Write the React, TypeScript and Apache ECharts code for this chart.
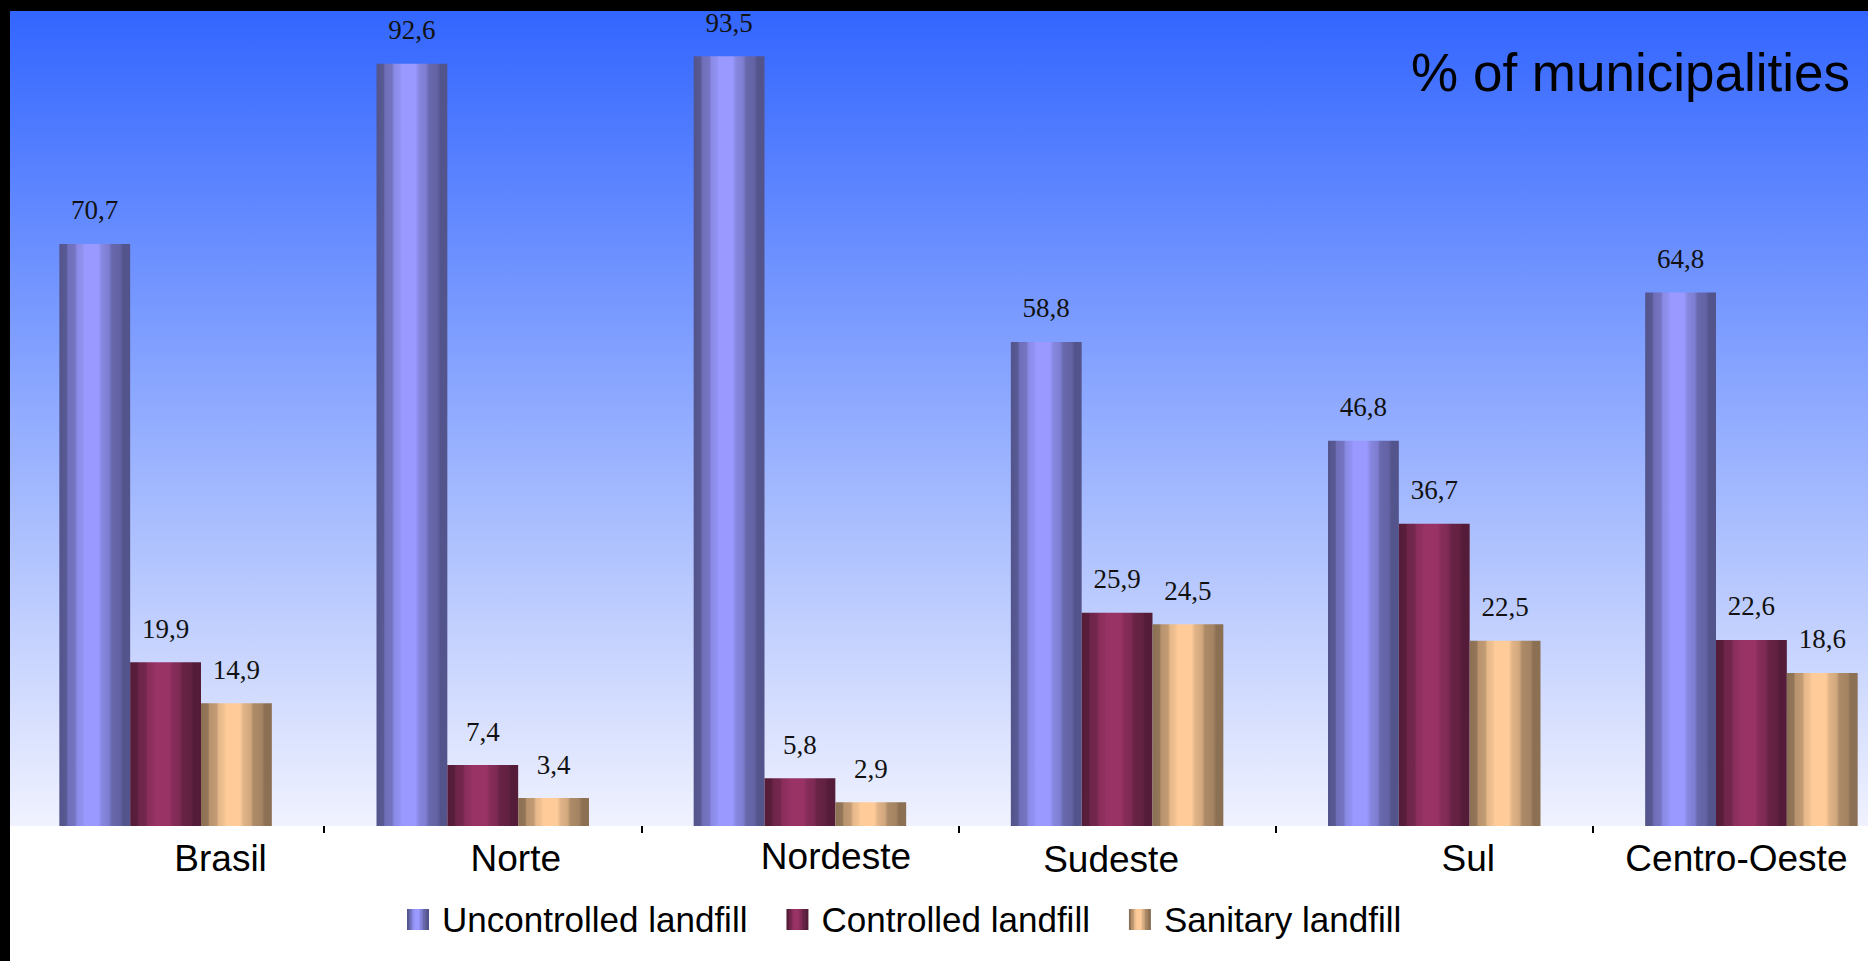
import React, { useEffect, useRef } from "react";
import * as echarts from "echarts";

// Regions and landfill shares (% of municipalities)
const categories = ["Brasil", "Norte", "Nordeste", "Sudeste", "Sul", "Centro-Oeste"];
const uncontrolled = [70.7, 92.6, 93.5, 58.8, 46.8, 64.8];
const controlled = [19.9, 7.4, 5.8, 25.9, 36.7, 22.6];
const sanitary = [14.9, 3.4, 2.9, 24.5, 22.5, 18.6];
const seriesNames = ["Uncontrolled landfill", "Controlled landfill", "Sanitary landfill"];
const titleText = "% of municipalities";

// Per-label nudges for the category names [dx, dy]
const labelNudges: Array<[number, number]> = [
  [55, -1],
  [33, 0],
  [36, -4],
  [-6, 2],
  [34, 0],
  [-15, 0],
];

const SANS = "'Liberation Sans', Arial, Helvetica, sans-serif";
const SERIF = "'Liberation Serif', 'Times New Roman', serif";

// The drawing surface runs past the visible page on the right,
// so the last group of bars is cut off at the window edge.
const CANVAS_W = 1920;
const VIEW_W = 1868;
const VIEW_H = 961;

function shade(hex: string, f: number): string {
  const n = parseInt(hex.slice(1), 16);
  const r = Math.round(((n >> 16) & 255) * f);
  const g = Math.round(((n >> 8) & 255) * f);
  const b = Math.round((n & 255) * f);
  return `rgb(${r},${g},${b})`;
}

// Banded cylinder shading across the bar width
const bands: Array<[number, number]> = [
  [0, 0.55],
  [0.1, 0.58],
  [0.12, 0.72],
  [0.22, 0.76],
  [0.25, 0.9],
  [0.32, 0.94],
  [0.36, 1],
  [0.55, 1],
  [0.6, 0.88],
  [0.7, 0.82],
  [0.74, 0.68],
  [0.86, 0.64],
  [0.9, 0.55],
  [1, 0.55],
];

function cylinder(hex: string) {
  return new echarts.graphic.LinearGradient(
    0,
    0,
    1,
    0,
    bands.map(([offset, f]) => ({ offset, color: shade(hex, f) }))
  );
}

const fmt = (v: number) => v.toFixed(1).replace(".", ",");

export default function App() {
  const ref = useRef<HTMLDivElement>(null);

  useEffect(() => {
    if (!ref.current) return;
    const chart = echarts.init(ref.current, undefined, { renderer: "svg" });

    const minDy = Math.min(...labelNudges.map((n) => n[1]));
    const rich: Record<string, any> = {};
    labelNudges.forEach(([dx, dy], i) => {
      rich["c" + i] = {
        fontFamily: SANS,
        fontSize: 37,
        lineHeight: 37,
        color: "#000",
        padding: [dy - minDy, dx < 0 ? -2 * dx : 0, 0, dx > 0 ? 2 * dx : 0],
      };
    });

    const palette = ["#9999ff", "#993366", "#ffcc99"];
    const datasets = [uncontrolled, controlled, sanitary];

    chart.setOption({
      animation: false,
      backgroundColor: "#ffffff",
      title: {
        text: titleText,
        right: CANVAS_W - VIEW_W + 18,
        top: 46,
        padding: 0,
        textStyle: {
          fontFamily: SANS,
          fontSize: 53,
          fontWeight: "normal",
          color: "#000",
        },
      },
      legend: {
        left: 407,
        top: 902,
        padding: 0,
        itemWidth: 22,
        itemHeight: 21,
        itemGap: 39,
        icon: "rect",
        data: seriesNames,
        textStyle: {
          fontFamily: SANS,
          fontSize: 35,
          color: "#000",
          padding: [0, 0, 0, 8],
        },
      },
      grid: {
        left: 7,
        top: 11,
        bottom: 135,
        width: 1903,
        show: true,
        borderWidth: 0,
        backgroundColor: new echarts.graphic.LinearGradient(0, 0, 0, 1, [
          { offset: 0, color: "#3366ff" },
          { offset: 1, color: "#f0f2fe" },
        ]),
      },
      xAxis: {
        type: "category",
        data: categories,
        offset: 2,
        axisLine: {
          lineStyle: {
            color: "#000",
            width: 3,
            shadowColor: "#7fd3ee",
            shadowOffsetY: -3,
            shadowBlur: 0,
          },
        },
        axisTick: {
          show: true,
          length: 7,
          lineStyle: { color: "#000", width: 2 },
        },
        axisLabel: {
          margin: 10,
          interval: 0,
          formatter: (value: string, idx: number) => `{c${idx}|${value}}`,
          rich,
        },
      },
      yAxis: {
        type: "value",
        min: 0,
        max: 99,
        show: false,
        splitLine: { show: false },
      },
      series: datasets.map((values, i) => ({
        name: seriesNames[i],
        type: "bar",
        data: values,
        barGap: "0%",
        barCategoryGap: "33%",
        itemStyle: { color: cylinder(palette[i]) },
        label: {
          show: true,
          position: "top",
          distance: 20,
          fontFamily: SERIF,
          fontSize: 27,
          color: "#111",
          formatter: (p: any) => fmt(p.value),
        },
      })),
      graphic: [
        {
          type: "rect",
          z: 100,
          shape: { x: 0, y: 0, width: CANVAS_W, height: 11 },
          style: { fill: "#000" },
        },
        {
          type: "rect",
          z: 100,
          shape: { x: 0, y: 0, width: 10, height: VIEW_H },
          style: { fill: "#000" },
        },
      ],
    });

    return () => chart.dispose();
  }, []);

  return (
    <div style={{ position: "fixed", left: 0, top: 0, width: VIEW_W, height: VIEW_H, overflow: "hidden" }}>
      <div ref={ref} style={{ width: CANVAS_W, height: VIEW_H }} />
    </div>
  );
}
